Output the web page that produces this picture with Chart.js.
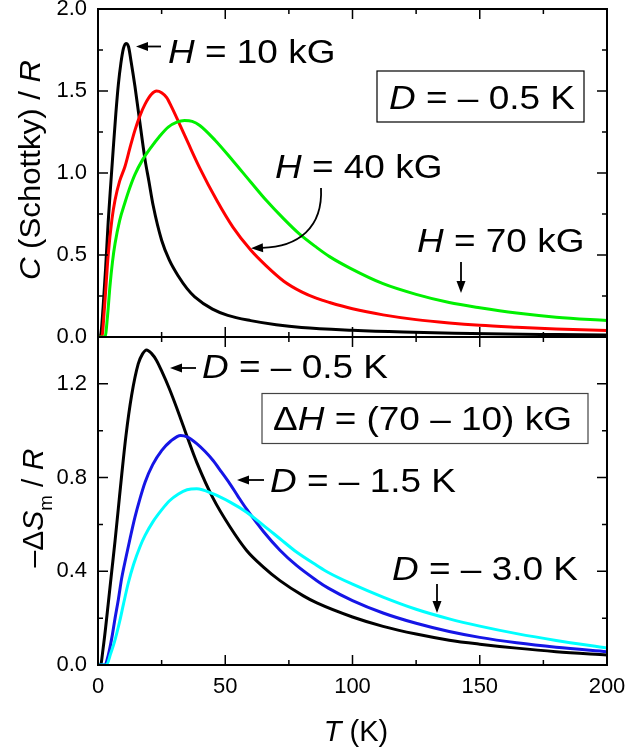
<!DOCTYPE html>
<html>
<head>
<meta charset="utf-8">
<script src="https://cdn.jsdelivr.net/npm/chart.js@4.4.0/dist/chart.umd.min.js"></script>
<style>
  body { margin: 0; background: #fff; }
  canvas.panel { position: absolute; left: 0; }
</style>
</head>
<body>
<canvas id="topChart" class="panel" width="630" height="345" style="top:0px"></canvas>
<canvas id="bottomChart" class="panel" width="630" height="426" style="top:330px"></canvas>
<script>
// ---- data ----
// top panel: C(Schottky)/R vs T, D = -0.5 K
const T_H10 = [0, 1, 2, 3, 4, 5, 6, 7, 8, 9, 10, 11, 12, 13, 14.5, 16, 18.5, 20, 21.7, 25, 28, 31.6, 35, 38, 45, 51, 60, 70, 80, 100, 120, 140, 160, 180, 200];
const C_H10 = [0, 0.01, 0.18, 0.42, 0.7, 0.93, 1.15, 1.36, 1.54, 1.67, 1.76, 1.79, 1.77, 1.68, 1.53, 1.36, 1.08, 0.95, 0.8, 0.59, 0.47, 0.37, 0.295, 0.245, 0.17, 0.132, 0.1, 0.075, 0.058, 0.041, 0.03, 0.023, 0.018, 0.015, 0.012];

const T_H40 = [0, 1.5, 2.5, 4, 5.5, 6.7, 8.5, 10.6, 12.5, 14.5, 16.5, 18.5, 21, 23, 25, 27, 29, 32, 35.5, 40, 46.6, 53, 60, 66, 73, 80, 86, 91, 100, 112, 125, 138, 150, 164.5, 180, 200];
const C_H40 = [0, 0, 0.17, 0.5, 0.72, 0.835, 0.95, 1.04, 1.15, 1.26, 1.35, 1.42, 1.48, 1.5, 1.49, 1.46, 1.4, 1.3, 1.18, 1.03, 0.835, 0.67, 0.53, 0.435, 0.34, 0.275, 0.235, 0.21, 0.172, 0.135, 0.106, 0.086, 0.072, 0.06, 0.049, 0.039];

const T_H70 = [0, 2.75, 3.7, 4.7, 5.7, 6.7, 8.5, 10.6, 12.5, 14.5, 17.5, 21, 24, 27.6, 31, 34, 37, 40, 46, 53, 60, 66, 73, 79, 86, 91, 99, 112, 125, 138, 150, 164.5, 180, 200];
const C_H70 = [0, 0, 0.12, 0.31, 0.46, 0.57, 0.71, 0.82, 0.91, 0.99, 1.08, 1.16, 1.22, 1.28, 1.31, 1.32, 1.315, 1.29, 1.2, 1.075, 0.945, 0.835, 0.72, 0.63, 0.545, 0.49, 0.42, 0.325, 0.26, 0.21, 0.178, 0.146, 0.121, 0.1];

// bottom panel: -dS_m/R vs T, dH = (70 - 10) kG
const T_D05 = [0, 1, 2, 3, 4, 5.4, 6.7, 8, 9.3, 11, 13.2, 15.8, 17.5, 19.1, 21, 23, 25, 28, 32.2, 35, 38.8, 45.3, 51.9, 58.4, 65, 71.5, 80.7, 86, 100, 112, 125, 138, 150, 164.5, 180, 200];
const S_D05 = [0, 0, 0.07, 0.16, 0.26, 0.4, 0.53, 0.67, 0.81, 0.98, 1.15, 1.285, 1.328, 1.345, 1.33, 1.3, 1.255, 1.18, 1.06, 0.975, 0.865, 0.71, 0.589, 0.489, 0.418, 0.36, 0.295, 0.265, 0.205, 0.165, 0.132, 0.106, 0.089, 0.072, 0.057, 0.043];

const T_D15 = [0, 2.7, 4, 5.5, 6.7, 8, 9.3, 11, 12.6, 14.5, 16.5, 18.5, 21.5, 25, 28.5, 32.5, 35, 38.8, 42, 45.3, 48.5, 51.9, 55, 58.4, 65, 71.5, 78, 86, 90.5, 100, 112, 125, 138, 150, 164.5, 180, 200];
const S_D15 = [0, 0, 0.04, 0.12, 0.2, 0.28, 0.37, 0.46, 0.54, 0.63, 0.71, 0.78, 0.855, 0.915, 0.955, 0.98, 0.974, 0.945, 0.912, 0.872, 0.824, 0.772, 0.72, 0.665, 0.57, 0.49, 0.425, 0.36, 0.328, 0.275, 0.222, 0.178, 0.143, 0.118, 0.095, 0.076, 0.057];

const T_D30 = [0, 3.3, 5, 6.5, 8.6, 10, 11.9, 14, 16.5, 18.5, 21.5, 25, 28, 31.6, 35, 38.8, 45.3, 51.9, 58.4, 65, 71.5, 78, 86, 90.5, 100, 112, 125, 138, 150, 164.5, 180, 200];
const S_D30 = [0, 0, 0.05, 0.1, 0.19, 0.26, 0.35, 0.43, 0.505, 0.553, 0.61, 0.662, 0.7, 0.73, 0.748, 0.752, 0.73, 0.695, 0.652, 0.596, 0.539, 0.482, 0.425, 0.395, 0.345, 0.29, 0.238, 0.197, 0.166, 0.134, 0.105, 0.073];

// ticks
const xMajorTicks = [0, 50, 100, 150, 200];
const xMinorTicks = [25, 75, 125, 175];
const yTopTicks = [0, 0.5, 1.0, 1.5, 2.0];
const yTopMinor = [0.25, 0.75, 1.25, 1.75];
const yBottomTicks = [0, 0.4, 0.8, 1.2];
const yBottomMinor = [0.2, 0.6, 1.0];

const FONT = '"Liberation Sans", Arial, Helvetica, sans-serif';
Chart.defaults.font.family = FONT;
Chart.defaults.color = '#000';

function pts(xs, ys) {
  return xs.map((x, i) => ({ x: x, y: ys[i] }));
}

function line(data, color) {
  return { data: data, borderColor: color, borderWidth: 3, pointRadius: 0, fill: false, cubicInterpolationMode: 'monotone' };
}

// rich text: pieces of {t, it, sub}
function richWidth(ctx, pieces, size) {
  let w = 0;
  pieces.forEach(p => {
    const s = p.sub ? size * 0.62 : size;
    ctx.font = (p.it ? 'italic ' : '') + s + 'px ' + FONT;
    w += ctx.measureText(p.t).width;
  });
  return w;
}

function drawRich(ctx, x, y, pieces, size, sx, rot) {
  ctx.save();
  ctx.translate(x, y);
  if (rot) ctx.rotate(rot);
  ctx.scale(sx || 1, 1);
  ctx.fillStyle = '#000';
  ctx.textAlign = 'left';
  ctx.textBaseline = 'alphabetic';
  let cx = 0;
  pieces.forEach(p => {
    const s = p.sub ? size * 0.62 : size;
    ctx.font = (p.it ? 'italic ' : '') + s + 'px ' + FONT;
    ctx.fillText(p.t, cx, p.sub ? size * 0.3 : 0);
    cx += ctx.measureText(p.t).width;
  });
  ctx.restore();
}

function arrowHead(ctx, x, y, ang) {
  ctx.save();
  ctx.translate(x, y);
  ctx.rotate(ang);
  ctx.beginPath();
  ctx.moveTo(0, 0);
  ctx.lineTo(-12, -4.5);
  ctx.lineTo(-12, 4.5);
  ctx.closePath();
  ctx.fill();
  ctx.restore();
}

function straightArrow(ctx, x1, y1, x2, y2) {
  const ang = Math.atan2(y2 - y1, x2 - x1);
  ctx.beginPath();
  ctx.moveTo(x1, y1);
  ctx.lineTo(x2 - 8 * Math.cos(ang), y2 - 8 * Math.sin(ang));
  ctx.stroke();
  arrowHead(ctx, x2, y2, ang);
}

// frame with inward ticks on all four sides
function framePlugin(yMajor, yMinor) {
  return {
    id: 'frame',
    afterDraw(chart) {
      const ctx = chart.ctx;
      const a = chart.chartArea;
      const sx = chart.scales.x, sy = chart.scales.y;
      ctx.save();
      ctx.strokeStyle = '#000';
      ctx.lineWidth = 1.5;
      ctx.beginPath();
      const tick = (v, len) => {
        const px = sx.getPixelForValue(v);
        ctx.moveTo(px, a.bottom); ctx.lineTo(px, a.bottom - len);
        ctx.moveTo(px, a.top); ctx.lineTo(px, a.top + len);
      };
      const ytick = (v, len) => {
        const py = sy.getPixelForValue(v);
        ctx.moveTo(a.left, py); ctx.lineTo(a.left + len, py);
        ctx.moveTo(a.right, py); ctx.lineTo(a.right - len, py);
      };
      xMajorTicks.forEach(v => tick(v, 10));
      xMinorTicks.forEach(v => tick(v, 5));
      yMajor.forEach(v => ytick(v, 10));
      yMinor.forEach(v => ytick(v, 5));
      ctx.stroke();
      ctx.lineWidth = 2;
      ctx.strokeRect(a.left, a.top, a.right - a.left, a.bottom - a.top);
      ctx.restore();
    }
  };
}

const SX = 1.12;
const topNotes = {
  id: 'topNotes',
  afterDraw(chart) {
    const ctx = chart.ctx;
    ctx.save();
    ctx.fillStyle = '#000';
    ctx.strokeStyle = '#000';
    ctx.lineWidth = 1.8;
    // y title
    const tp = [{ t: 'C', it: true }, { t: ' (Schottky) / ' }, { t: 'R', it: true }];
    const tw = richWidth(ctx, tp, 30) * 1.04;
    drawRich(ctx, 40, 170 + tw / 2, tp, 30, 1.04, -Math.PI / 2);

    drawRich(ctx, 168, 63, [{ t: 'H', it: true }, { t: ' = 10 kG' }], 33, SX);
    straightArrow(ctx, 161, 46.5, 136, 46.5);

    ctx.lineWidth = 1.2;
    ctx.strokeRect(377, 71, 207, 51);
    drawRich(ctx, 389, 109, [{ t: 'D', it: true }, { t: ' = \u2013 0.5 K' }], 33, SX);

    drawRich(ctx, 275, 178, [{ t: 'H', it: true }, { t: ' = 40 kG' }], 33, SX);
    ctx.lineWidth = 1.8;
    ctx.beginPath();
    ctx.moveTo(321, 188);
    ctx.bezierCurveTo(323, 228, 298, 247, 262, 247.8);
    ctx.stroke();
    arrowHead(ctx, 251, 248.3, Math.PI - 0.05);

    drawRich(ctx, 417, 252, [{ t: 'H', it: true }, { t: ' = 70 kG' }], 33, SX);
    straightArrow(ctx, 461, 262, 461, 293);
    ctx.restore();
  }
};

const OFF = 330;
const bottomNotes = {
  id: 'bottomNotes',
  afterDraw(chart) {
    const ctx = chart.ctx;
    ctx.save();
    ctx.translate(0, -OFF);
    ctx.fillStyle = '#000';
    ctx.strokeStyle = '#000';
    ctx.lineWidth = 1.8;
    // y title
    const tp = [{ t: '\u2013\u0394' }, { t: 'S', it: true }, { t: 'm', sub: true }, { t: ' / ' }, { t: 'R', it: true }];
    const tw = richWidth(ctx, tp, 30);
    drawRich(ctx, 43, 508 + tw / 2, tp, 30, 1, -Math.PI / 2);
    // x title
    const xp = [{ t: 'T', it: true }, { t: ' (K)' }];
    const xw = richWidth(ctx, xp, 29);
    drawRich(ctx, 356 - xw / 2, 741, xp, 29, 1);

    drawRich(ctx, 202, 378, [{ t: 'D', it: true }, { t: ' = \u2013 0.5 K' }], 33, SX);
    straightArrow(ctx, 196, 368, 170, 368);

    ctx.lineWidth = 1.2;
    ctx.strokeStyle = '#444';
    ctx.strokeRect(262, 393.5, 326, 50);
    drawRich(ctx, 273, 430, [{ t: '\u0394' }, { t: 'H', it: true }, { t: ' = (70 \u2013 10) kG' }], 33, SX);

    ctx.strokeStyle = '#000';
    ctx.lineWidth = 1.8;
    drawRich(ctx, 270, 492, [{ t: 'D', it: true }, { t: ' = \u2013 1.5 K' }], 33, SX);
    straightArrow(ctx, 264, 480, 237, 480);

    drawRich(ctx, 392, 580, [{ t: 'D', it: true }, { t: ' = \u2013 3.0 K' }], 33, SX);
    straightArrow(ctx, 437, 584, 437, 613);
    ctx.restore();
  }
};

const baseOpts = {
  responsive: false,
  animation: false,
  events: [],
  plugins: { legend: { display: false }, tooltip: { enabled: false } }
};

function fitY(s) { s.width = 98; s.paddingTop = 0; s.paddingBottom = 0; }

new Chart(document.getElementById('topChart'), {
  type: 'line',
  data: {
    datasets: [
      line(pts(T_H70, C_H70), '#00f000'),
      line(pts(T_H40, C_H40), '#ff0000'),
      line(pts(T_H10, C_H10), '#000000')
    ]
  },
  options: Object.assign({}, baseOpts, {
    layout: { padding: { left: 0, right: 23, top: 9, bottom: 8 } },
    scales: {
      x: {
        type: 'linear', min: 0, max: 200,
        ticks: { display: false },
        grid: { display: false, drawTicks: false },
        border: { display: false },
        afterFit: s => { s.height = 0; s.paddingLeft = 0; s.paddingRight = 0; }
      },
      y: {
        min: 0, max: 2,
        afterBuildTicks: s => { s.ticks = yTopTicks.map(v => ({ value: v })); },
        ticks: { padding: 11, color: '#000', font: { size: 22 }, callback: v => Number(v).toFixed(1) },
        grid: { display: false, drawTicks: false },
        border: { display: false },
        afterFit: fitY
      }
    }
  }),
  plugins: [framePlugin(yTopTicks, yTopMinor), topNotes]
});

new Chart(document.getElementById('bottomChart'), {
  type: 'line',
  data: {
    datasets: [
      line(pts(T_D30, S_D30), '#00ffff'),
      line(pts(T_D15, S_D15), '#1515e6'),
      line(pts(T_D05, S_D05), '#000000')
    ]
  },
  options: Object.assign({}, baseOpts, {
    layout: { padding: { left: 0, right: 23, top: 7, bottom: 0 } },
    scales: {
      x: {
        type: 'linear', min: 0, max: 200,
        afterBuildTicks: s => { s.ticks = xMajorTicks.map(v => ({ value: v })); },
        ticks: { padding: 9, color: '#000', font: { size: 22 }, maxRotation: 0, callback: v => String(v) },
        grid: { display: false, drawTicks: false },
        border: { display: false },
        afterFit: s => { s.height = 91; s.paddingLeft = 0; s.paddingRight = 0; }
      },
      y: {
        min: 0, max: 1.4,
        afterBuildTicks: s => { s.ticks = yBottomTicks.map(v => ({ value: v })); },
        ticks: { padding: 11, color: '#000', font: { size: 22 }, callback: v => Number(v).toFixed(1) },
        grid: { display: false, drawTicks: false },
        border: { display: false },
        afterFit: fitY
      }
    }
  }),
  plugins: [framePlugin(yBottomTicks, yBottomMinor), bottomNotes]
});
</script>
</body>
</html>
